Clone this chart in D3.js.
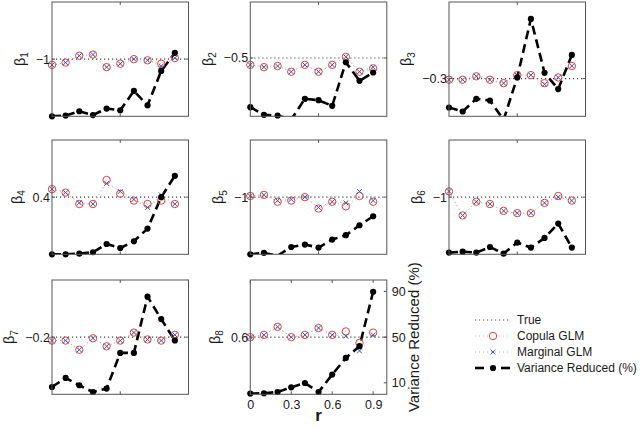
<!DOCTYPE html>
<html><head><meta charset="utf-8">
<script src="https://cdnjs.cloudflare.com/ajax/libs/d3/7.8.5/d3.min.js"></script>
<style>
html,body{margin:0;padding:0;background:#fff;}
text{font-family:"Liberation Sans",Arial,Helvetica,sans-serif;fill:#1a1a1a;}
</style></head>
<body><svg id="chart" width="640" height="429"></svg>
<script>
// ---------- data ----------
const r = [0, 0.1, 0.2, 0.3, 0.4, 0.5, 0.6, 0.7, 0.8, 0.9];
const panelIndex = [1, 2, 3, 4, 5, 6, 7, 8];
const trueValues = [-1, -0.5, -0.3, 0.4, -1, -1, -0.2, 0.6];
const trueTickLabels = ["\u22121", "\u22120.5", "\u22120.3", "0.4", "\u22121", "\u22121", "\u22120.2", "0.6"];

const copulaGLM = [
  [-1.05, -1.03, -0.97, -0.96, -1.07, -1.04, -1.00, -1.01, -1.04, -0.99],
  [-0.56, -0.58, -0.57, -0.62, -0.56, -0.62, -0.56, -0.49, -0.62, -0.59],
  [-0.31, -0.31, -0.28, -0.31, -0.34, -0.27, -0.27, -0.34, -0.29, -0.19],
  [0.47, 0.44, 0.34, 0.34, 0.55, 0.43, 0.37, 0.34, 0.37, 0.34],
  [-0.99, -0.98, -1.04, -1.03, -1.00, -1.10, -1.04, -1.08, -0.99, -1.04],
  [-0.95, -1.16, -1.04, -1.06, -1.12, -1.14, -1.14, -1.05, -0.99, -1.03],
  [-0.23, -0.23, -0.31, -0.21, -0.28, -0.23, -0.16, -0.22, -0.23, -0.18],
  [0.60, 0.62, 0.69, 0.60, 0.62, 0.68, 0.62, 0.65, 0.55, 0.64]
];
const marginalGLM = [
  [-1.05, -1.03, -0.97, -0.96, -1.07, -1.04, -1.00, -1.01, -1.06, -0.99],
  [-0.56, -0.58, -0.57, -0.62, -0.56, -0.62, -0.56, -0.49, -0.62, -0.58],
  [-0.31, -0.31, -0.28, -0.31, -0.34, -0.27, -0.27, -0.35, -0.29, -0.19],
  [0.47, 0.44, 0.35, 0.34, 0.52, 0.45, 0.38, 0.31, 0.42, 0.34],
  [-0.99, -0.98, -1.03, -1.02, -1.00, -1.09, -1.04, -1.05, -0.95, -1.03],
  [-0.95, -1.16, -1.04, -1.06, -1.12, -1.14, -1.14, -1.05, -1.00, -1.03],
  [-0.23, -0.23, -0.31, -0.21, -0.28, -0.23, -0.16, -0.22, -0.23, -0.18],
  [0.60, 0.62, 0.69, 0.60, 0.62, 0.68, 0.62, 0.61, 0.48, 0.62]
];
const varianceReduced = [
  [0, 0.6, 4.4, 1.1, 6.8, 5.3, 22.2, 9.6, 39.7, 55.5],
  [8.0, 1.3, 0.7, -2.8, 15.3, 14.1, 9.2, 47.3, 31.0, 38.3],
  [7.7, 4.2, 15.3, 13.8, -3.1, 34.0, 85.2, 38.0, 23.8, 53.7],
  [0, 0, 0.6, 1.8, 9.0, 5.5, 11.4, 22.5, 50.0, 68.7],
  [0, 1.2, -1.2, 6.4, 8.5, 5.9, 12.9, 16.7, 25.4, 33.3],
  [1.5, 2.3, 1.5, 6.4, 0.6, 10.3, 5.9, 14.3, 26.9, 5.9],
  [6.4, 14.3, 7.9, 2.0, 5.0, 36.2, 36.2, 85.4, 65.8, 47.1],
  [0.6, 0.9, 2.0, 6.1, 9.9, 2.0, 17.3, 31.8, 42.1, 89.7]
];
const xTickValues = [0, 0.3, 0.6, 0.9];
const rightTickValues = [10, 50, 90];
const legendLabels = ["True", "Copula GLM", "Marginal GLM", "Variance Reduced (%)"];

// ---------- scale configuration ----------
const leftDomains = [[-1.5, -0.5], [-1.01, -0.01], [-0.63, 0.37], [-0.1, 0.9],
                     [-1.5, -0.5], [-1.5, -0.5], [-0.7, 0.3], [0.1, 1.1]];
const rightDomain = [0, 100];
const xDomain = [0, 1];

// ---------- layout ----------
const colX = [52, 250.3, 449];
const rowY = [2, 140, 280];
const W = 136.5, H = 114.3;
const RED = "#e2403f", BLUE = "#3a55a6";

const svg = d3.select("#chart");
svg.append("rect").attr("width", 640).attr("height", 429).attr("fill", "#fff");

panelIndex.forEach((p, i) => {
  const px = colX[i % 3], py = rowY[Math.floor(i / 3)];
  const g = svg.append("g").attr("transform", `translate(${px},${py})`);
  const x = d3.scaleLinear().domain(xDomain).range([0, W]);
  const yL = d3.scaleLinear().domain(leftDomains[i]).range([H, 0]);
  const yR = d3.scaleLinear().domain(rightDomain).range([H, 0]);
  const clipId = "clip" + p;
  g.append("clipPath").attr("id", clipId).append("rect").attr("width", W).attr("height", H);
  const inner = g.append("g").attr("clip-path", `url(#${clipId})`);

  // true dotted line
  inner.append("line").attr("x1", 0).attr("x2", W)
    .attr("y1", yL(trueValues[i])).attr("y2", yL(trueValues[i]))
    .attr("stroke", "#444").attr("stroke-width", 1.1).attr("stroke-dasharray", "1.2,2.8");

  const lineL = d3.line().x((d, k) => x(r[k])).y(d => yL(d));
  inner.append("path").datum(copulaGLM[i]).attr("d", lineL).attr("fill", "none")
    .attr("stroke", "#f0a0a0").attr("stroke-width", 0.9).attr("stroke-dasharray", "1,3");
  inner.append("path").datum(marginalGLM[i]).attr("d", lineL).attr("fill", "none")
    .attr("stroke", "#9aa8d6").attr("stroke-width", 0.9).attr("stroke-dasharray", "1,3");

  g.selectAll(".cop").data(copulaGLM[i]).join("circle")
    .attr("cx", (d, k) => x(r[k])).attr("cy", d => yL(d)).attr("r", 3.7)
    .attr("fill", "none").attr("stroke", RED).attr("stroke-width", 1);
  const s = 2.4;
  g.selectAll(".mar").data(marginalGLM[i]).join("path")
    .attr("d", (d, k) => { const cx = x(r[k]), cy = yL(d);
      return `M${cx - s},${cy - s}L${cx + s},${cy + s}M${cx - s},${cy + s}L${cx + s},${cy - s}`; })
    .attr("stroke", BLUE).attr("stroke-width", 1).attr("fill", "none");

  // variance reduced (right axis)
  const lineR = d3.line().x((d, k) => x(r[k])).y(d => yR(d));
  inner.append("path").datum(varianceReduced[i]).attr("d", lineR).attr("fill", "none")
    .attr("stroke", "#000").attr("stroke-width", 2.6).attr("stroke-dasharray", "9,5");
  g.selectAll(".vr").data(varianceReduced[i].map((v, k) => ({v, k})).filter(d => d.v >= rightDomain[0] && d.v <= rightDomain[1]))
    .join("circle").attr("cx", d => x(r[d.k])).attr("cy", d => yR(d.v)).attr("r", 3.1).attr("fill", "#000");

  // frame
  g.append("rect").attr("width", W).attr("height", H).attr("fill", "none")
    .attr("stroke", "#555").attr("stroke-width", 1);

  // left tick (mirrored on right)
  const ty = yL(trueValues[i]);
  g.append("line").attr("x1", 0).attr("x2", 3).attr("y1", ty).attr("y2", ty).attr("stroke", "#555");
  g.append("line").attr("x1", W - 3).attr("x2", W).attr("y1", ty).attr("y2", ty).attr("stroke", "#555");
  const tl = g.append("text").attr("x", -2).attr("y", ty).attr("dy", "0.35em")
    .attr("text-anchor", "end").attr("font-size", 12.5).text(trueTickLabels[i]);
  const tw = tl.node().getComputedTextLength();

  // beta label
  const lab = g.append("text").attr("transform", `translate(${-2 - tw - 16},${H / 2}) rotate(-90)`)
    .attr("text-anchor", "middle").attr("dy", "0.35em").attr("font-size", 14.5);
  lab.append("tspan").text("\u03b2");
  lab.append("tspan").attr("font-size", 10).attr("dy", "0.35em").text(p);

  if (p === 8) {
    const xa = d3.axisBottom(x).tickValues(xTickValues).tickSize(0).tickPadding(6).tickFormat(d3.format(".1~f"));
    const ax = g.append("g").attr("transform", `translate(0,${H})`).call(xa);
    ax.select(".domain").remove();
    ax.selectAll("text").attr("font-size", 12.5).attr("fill", "#1a1a1a")
      .attr("font-family", "Liberation Sans,Arial,sans-serif");
    xTickValues.forEach(t => {
      g.append("line").attr("x1", x(t)).attr("x2", x(t)).attr("y1", H).attr("y2", H - 3).attr("stroke", "#555");
      g.append("line").attr("x1", x(t)).attr("x2", x(t)).attr("y1", 0).attr("y2", 3).attr("stroke", "#555");
    });
    const ra = d3.axisRight(yR).tickValues(rightTickValues).tickSize(0).tickPadding(5);
    const rax = g.append("g").attr("transform", `translate(${W},0)`).call(ra);
    rax.select(".domain").remove();
    rax.selectAll("text").attr("font-size", 12.5).attr("fill", "#1a1a1a")
      .attr("font-family", "Liberation Sans,Arial,sans-serif");
    rightTickValues.forEach(t => {
      g.append("line").attr("x1", W - 3).attr("x2", W).attr("y1", yR(t)).attr("y2", yR(t)).attr("stroke", "#555");
    });
    g.append("text").attr("x", W / 2).attr("y", H + 27).attr("text-anchor", "middle")
      .attr("font-size", 17).attr("font-weight", "bold").text("r");
    g.append("text").attr("transform", `translate(${W + 27},${H / 2}) rotate(-90)`)
      .attr("text-anchor", "middle").attr("dy", "0.35em").attr("font-size", 15).text("Variance Reduced (%)");
  } else {
    g.append("line").attr("x1", x(0.5)).attr("x2", x(0.5)).attr("y1", H).attr("y2", H - 3).attr("stroke", "#555");
    g.append("line").attr("x1", x(0.5)).attr("x2", x(0.5)).attr("y1", 0).attr("y2", 3).attr("stroke", "#555");
  }
});

// ---------- legend ----------
const lg = svg.append("g").attr("transform", "translate(475,320)");
legendLabels.forEach((lab, k) => {
  const e = lg.append("g").attr("transform", `translate(0,${k * 16})`);
  const mid = 18;
  if (k === 0) {
    e.append("line").attr("x1", 0).attr("x2", 35).attr("stroke", "#555").attr("stroke-width", 1)
      .attr("stroke-dasharray", "1.2,2.8");
  } else if (k === 1) {
    e.append("line").attr("x1", 0).attr("x2", 35).attr("stroke", "#f0a0a0").attr("stroke-width", 0.9).attr("stroke-dasharray", "1,3");
    e.append("circle").attr("cx", mid).attr("cy", 0).attr("r", 3.7).attr("fill", "#fff").attr("stroke", RED);
  } else if (k === 2) {
    e.append("line").attr("x1", 0).attr("x2", 35).attr("stroke", "#9aa8d6").attr("stroke-width", 0.9).attr("stroke-dasharray", "1,3");
    const s = 2.4;
    e.append("path").attr("d", `M${mid - s},${-s}L${mid + s},${s}M${mid - s},${s}L${mid + s},${-s}`)
      .attr("stroke", BLUE).attr("fill", "none");
  } else {
    e.append("line").attr("x1", 0).attr("x2", 9).attr("stroke", "#000").attr("stroke-width", 2.6);
    e.append("line").attr("x1", 26).attr("x2", 35).attr("stroke", "#000").attr("stroke-width", 2.6);
    e.append("circle").attr("cx", mid).attr("cy", 0).attr("r", 3.1).attr("fill", "#000");
  }
  e.append("text").attr("x", 42).attr("y", 0).attr("dy", "0.35em").attr("font-size", 12).text(lab);
});
</script></body></html>
